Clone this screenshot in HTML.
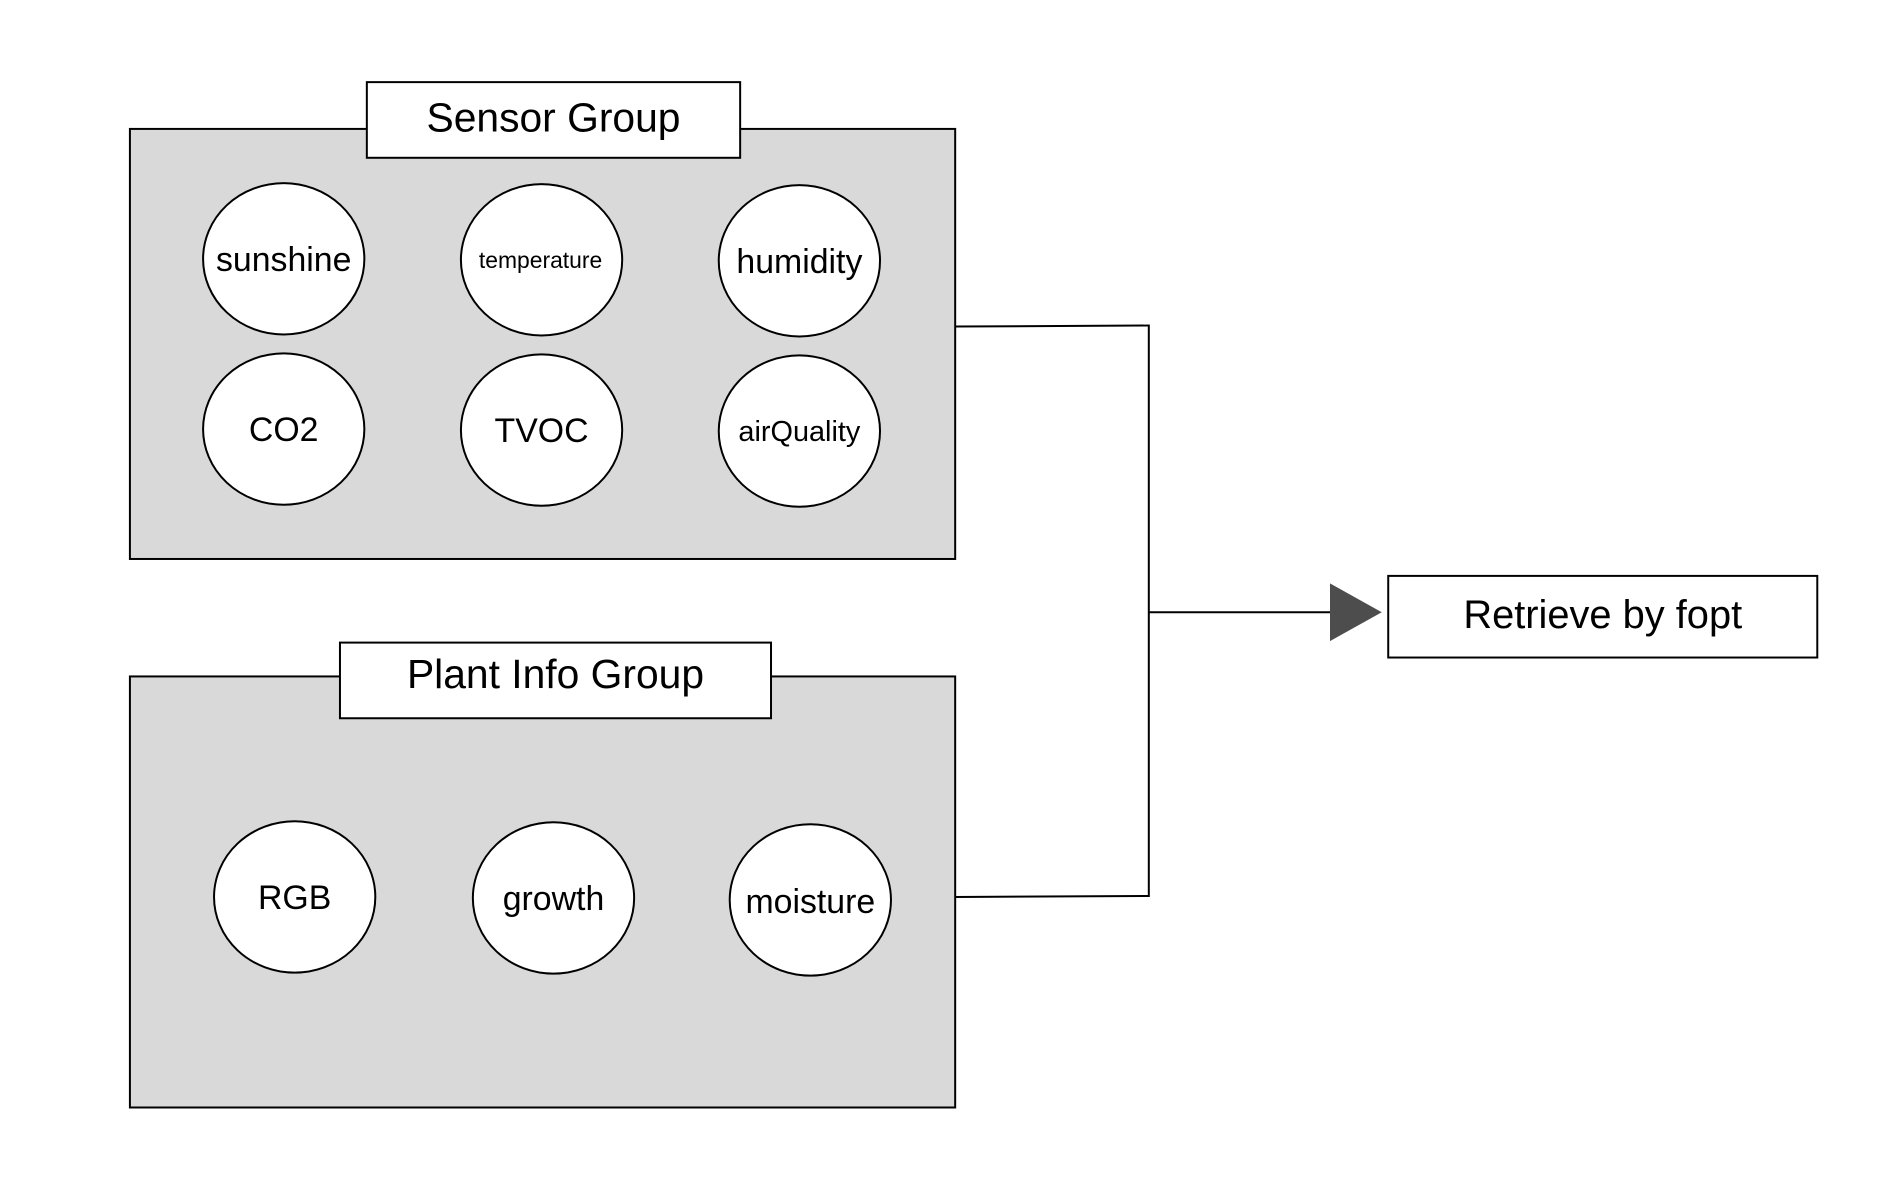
<!DOCTYPE html>
<html><head><meta charset="utf-8"><style>body{margin:0;background:#fff}</style></head>
<body>
<svg width="1885" height="1189" viewBox="0 0 1885 1189" xmlns="http://www.w3.org/2000/svg" font-family="Liberation Sans, sans-serif" fill="#000">
<rect x="0" y="0" width="1885" height="1189" fill="#fff"/>
<g transform="scale(0.9955)">
<rect x="130.5" y="129.5" width="829" height="432" fill="#d9d9d9" stroke="#000" stroke-width="2"/>
<rect x="368.5" y="82.5" width="375" height="76" fill="#fff" stroke="#000" stroke-width="2"/>
<text x="556" y="132" font-size="41" text-anchor="middle">Sensor Group</text>
<g fill="#fff" stroke="#000" stroke-width="2">
<ellipse cx="285" cy="260" rx="81" ry="76"/>
<ellipse cx="544" cy="261" rx="81" ry="76"/>
<ellipse cx="803" cy="262" rx="81" ry="76"/>
<ellipse cx="285" cy="431" rx="81" ry="76"/>
<ellipse cx="544" cy="432" rx="81" ry="76"/>
<ellipse cx="803" cy="433" rx="81" ry="76"/>
</g>
<g text-anchor="middle" font-size="34">
<text x="285" y="272">sunshine</text>
<text x="543" y="269" font-size="23">temperature</text>
<text x="803" y="274">humidity</text>
<text x="285" y="443">CO2</text>
<text x="544" y="444">TVOC</text>
<text x="803" y="443" font-size="29">airQuality</text>
</g>
<rect x="130.5" y="679.5" width="829" height="433" fill="#d9d9d9" stroke="#000" stroke-width="2"/>
<rect x="341.5" y="645.5" width="433" height="76" fill="#fff" stroke="#000" stroke-width="2"/>
<text x="558" y="691" font-size="41" text-anchor="middle">Plant Info Group</text>
<g fill="#fff" stroke="#000" stroke-width="2">
<ellipse cx="296" cy="901" rx="81" ry="76"/>
<ellipse cx="556" cy="902" rx="81" ry="76"/>
<ellipse cx="814" cy="904" rx="81" ry="76"/>
</g>
<g text-anchor="middle" font-size="34">
<text x="296" y="913">RGB</text>
<text x="556" y="914">growth</text>
<text x="814" y="917">moisture</text>
</g>
<g stroke="#000" stroke-width="2" fill="none">
<polyline points="959,328 1154,327 1154,900 959,901"/>
<line x1="1154" y1="615" x2="1337" y2="615"/>
</g>
<polygon points="1336,586 1388,615 1336,644" fill="#4d4d4d"/>
<rect x="1394.5" y="578.5" width="431" height="82" fill="#fff" stroke="#000" stroke-width="2"/>
<text x="1610" y="631" font-size="40" text-anchor="middle">Retrieve by fopt</text>
</g>
</svg>
</body></html>
